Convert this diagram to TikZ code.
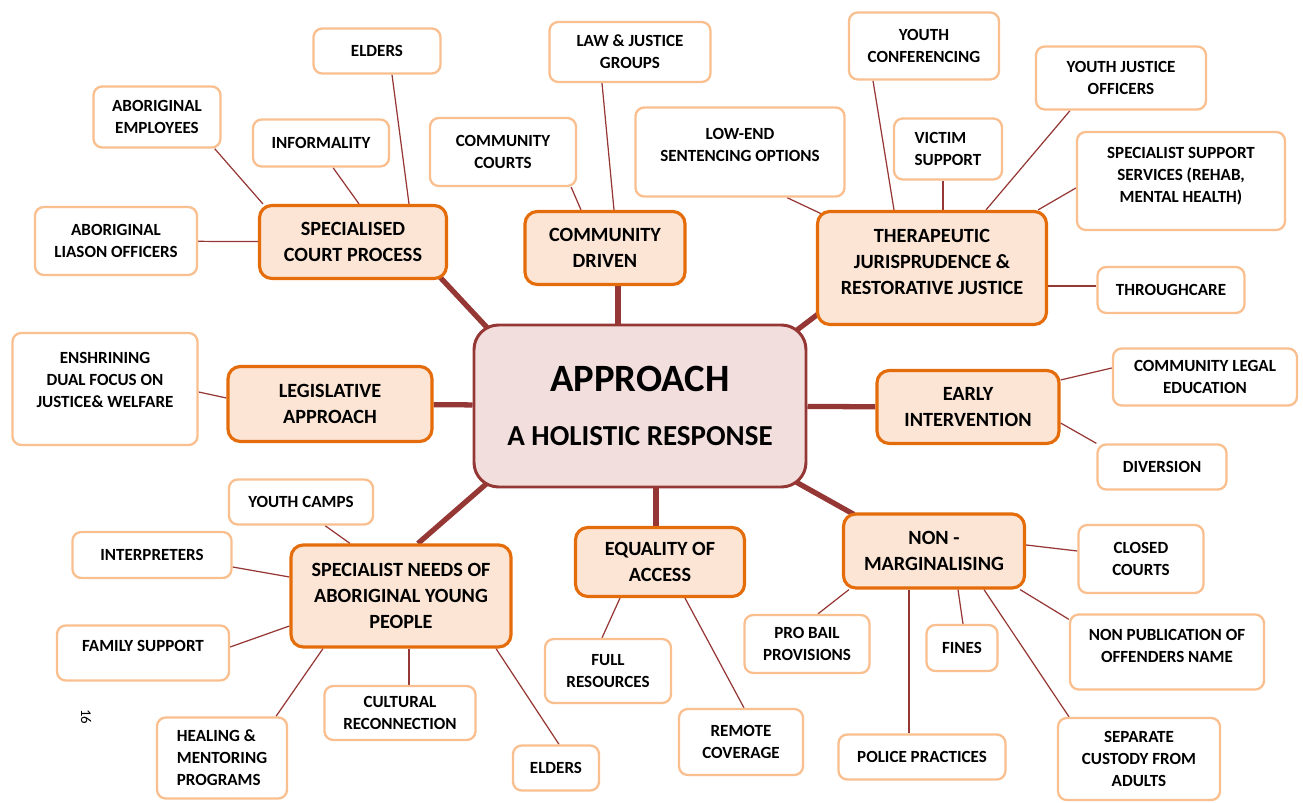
\documentclass[tikz,border=0pt]{standalone}
\usepackage{fontspec}
\setmainfont{Carlito}
\usetikzlibrary{calc,backgrounds}
\definecolor{hubred}{HTML}{953735}
\definecolor{hubfill}{HTML}{F2DEDC}
\definecolor{armline}{HTML}{E46C0A}
\definecolor{armfill}{HTML}{FCE5D4}
\definecolor{leafline}{HTML}{F9BF8F}
\tikzset{hub/.style={draw=hubred, fill=hubfill, line width=1.7pt, rounded corners=14pt, align=center, minimum width=332*0.02cm, minimum height=162*0.02cm, font=\bfseries\fontsize{22}{30.6}\selectfont}}
\tikzset{arm/.style 2 args={draw=armline, fill=armfill, line width=1.8pt, rounded corners=7pt, align=center, inner sep=1pt, minimum width=#1*0.02cm, minimum height=#2*0.02cm, font=\bfseries\fontsize{11.5}{14.7}\selectfont},
         leaf/.style 2 args={draw=leafline, fill=white, line width=1.3pt, rounded corners=5pt, align=center, inner sep=1pt, minimum width=#1*0.02cm, minimum height=#2*0.02cm, font=\bfseries\fontsize{9.7}{12.5}\selectfont},
         lift/.style={text depth=#1*0.02cm},
         trunk/.style={hubred, line width=3pt},
         twig/.style={hubred, line width=0.7pt}}

\begin{document}
\begin{tikzpicture}[x=0.02cm, y=-0.02cm]
  \useasboundingbox (0,0) rectangle (1303,803);
  % hub
  \node[hub] (approach) at (640,406) {APPROACH\\{\fontsize{16.5}{30.6}\selectfont A HOLISTIC RESPONSE}};
  % main branches
  \node[arm={187}{73}]          (court)   at ( 353,242) {SPECIALISED\\COURT PROCESS};
  \node[arm={160}{73}]          (driven)  at ( 605,248) {COMMUNITY\\DRIVEN};
  \node[arm={229}{113},lift=12] (thera)   at ( 932,268) {THERAPEUTIC\\JURISPRUDENCE \&\\RESTORATIVE JUSTICE};
  \node[arm={204}{75}]          (legis)   at ( 330,404) {LEGISLATIVE\\APPROACH};
  \node[arm={182}{73}]          (early)   at ( 968,407) {EARLY\\INTERVENTION};
  \node[arm={220}{102}]         (needs)   at ( 401,596) {SPECIALIST NEEDS OF\\ABORIGINAL YOUNG\\PEOPLE};
  \node[arm={169}{69}]          (equal)   at ( 660,562) {EQUALITY OF\\ACCESS};
  \node[arm={181}{74}]          (nonmarg) at ( 934,551) {NON -\\MARGINALISING};
  % leaves
  \node[leaf={127}{45}]           (elderstop)  at ( 377, 51) {ELDERS};
  \node[leaf={127}{61}]           (aboemp)     at ( 157,117) {ABORIGINAL\\EMPLOYEES};
  \node[leaf={136}{47}]           (informal)   at ( 321,143) {INFORMALITY};
  \node[leaf={162}{68}]           (liason)     at ( 116,241) {ABORIGINAL\\LIASON OFFICERS};
  \node[leaf={161}{60}]           (lawgroups)  at ( 630, 52) {LAW \& JUSTICE\\GROUPS};
  \node[leaf={146}{68}]           (ccourts)    at ( 503,152) {COMMUNITY\\COURTS};
  \node[leaf={209}{89},lift=14]   (lowend)     at ( 740,152) {LOW-END\\SENTENCING OPTIONS};
  \node[leaf={150}{67}]           (conference) at ( 924, 46) {YOUTH\\CONFERENCING};
  \node[leaf={108}{61},align=left](victim)     at ( 948,149) {VICTIM\\SUPPORT};
  \node[leaf={170}{63}]           (yjofficers) at (1121, 78) {YOUTH JUSTICE\\OFFICERS};
  \node[leaf={208}{98},lift=12]   (support)    at (1181,181) {SPECIALIST SUPPORT\\SERVICES (REHAB,\\MENTAL HEALTH)};
  \node[leaf={147}{46}]           (throughcare)at (1171,290) {THROUGHCARE};
  \node[leaf={185}{112},lift=18]  (enshrine)   at ( 105,389) {ENSHRINING\\DUAL FOCUS ON\\JUSTICE\& WELFARE};
  \node[leaf={184}{57}]           (legaled)    at (1205,377) {COMMUNITY LEGAL\\EDUCATION};
  \node[leaf={129}{45}]           (diversion)  at (1162,467) {DIVERSION};
  \node[leaf={144}{45}]           (camps)      at ( 301,502) {YOUTH CAMPS};
  \node[leaf={159}{46}]           (interp)     at ( 152,555) {INTERPRETERS};
  \node[leaf={172}{55},lift=14]   (family)     at ( 143,653) {FAMILY SUPPORT};
  \node[leaf={130}{81},align=left](healing)    at ( 222,758) {HEALING \&\\MENTORING\\PROGRAMS};
  \node[leaf={151}{54}]           (cultural)   at ( 400,713) {CULTURAL\\RECONNECTION};
  \node[leaf={86}{45}]            (eldersbot)  at ( 556,768) {ELDERS};
  \node[leaf={126}{64}]           (fullres)    at ( 608,671) {FULL\\RESOURCES};
  \node[leaf={124}{66}]           (remote)     at ( 741,742) {REMOTE\\COVERAGE};
  \node[leaf={125}{58}]           (probail)    at ( 807,644) {PRO BAIL\\PROVISIONS};
  \node[leaf={71}{46}]            (fines)      at ( 962,648) {FINES};
  \node[leaf={167}{45}]           (police)     at ( 922,757) {POLICE PRACTICES};
  \node[leaf={125}{68}]           (closed)     at (1141,559) {CLOSED\\COURTS};
  \node[leaf={194}{75},lift=12]   (nonpub)     at (1167,652) {NON PUBLICATION OF\\OFFENDERS NAME};
  \node[leaf={162}{82}]           (separate)   at (1139,759) {SEPARATE\\CUSTODY FROM\\ADULTS};
  \node[rotate=-90, font=\fontsize{8.5}{10}\selectfont] (pageno) at (86,717) {16};
  % connectors
  \begin{scope}[on background layer]
   \draw[trunk] ($(court.south east)+(-10,-5)$) -- ($(approach.north west)+(21,11)$);
   \draw[trunk] ($(driven.south)+(13,0)$) -- ($(approach.north)+(-22,0)$);
   \draw[trunk] ($(thera.south west)+(10,-18)$) -- ($(approach.north east)+(-19,13)$);
   \draw[trunk] (legis) -- (approach);
   \draw[trunk] (approach) -- (early);
   \draw[trunk] ($(needs.north)+(17,0)$) -- ($(approach.south west)+(20,-10)$);
   \draw[trunk] ($(equal.north)+(-4,0)$) -- ($(approach.south)+(16,0)$);
   \draw[trunk] ($(approach.south east)+(-16,-9)$) -- ($(nonmarg.north west)+(12,2)$);
   % court
   \draw[twig] ($(elderstop.south)+(15,0)$) -- ($(court.north)+(56,0)$);
   \draw[twig] ($(informal.south)+(12,0)$) -- ($(court.north)+(6,0)$);
   \draw[twig] ($(aboemp.south east)+(-7,0)$) -- ($(court.north west)+(5,0)$);
   \draw[twig] (liason) -- (court);
   % community driven
   \draw[twig] ($(lawgroups.south)+(-28,0)$) -- ($(driven.north)+(9,0)$);
   \draw[twig] ($(ccourts.south east)+(-6,0)$) -- ($(driven.north)+(-24,0)$);
   % therapeutic
   \draw[twig] ($(lowend.south)+(47,0)$) -- ($(thera.north west)+(12,7)$);
   \draw[twig] ($(conference.south)+(-51,0)$) -- ($(thera.north)+(-38,0)$);
   \draw[twig] ($(victim.south)+(-5,0)$) -- ($(thera.north)+(11,0)$);
   \draw[twig] ($(yjofficers.south)+(-51,0)$) -- ($(thera.north)+(54,0)$);
   \draw[twig] ($(support.west)+(0,7)$) -- ($(thera.north east)+(-10,0)$);
   \draw[twig] ($(thera.east)+(0,18)$) -- ($(throughcare.west)+(0,-4)$);
   % legislative, early
   \draw[twig] ($(enshrine.east)+(0,3)$) -- ($(legis.west)+(0,-6)$);
   \draw[twig] ($(early.east)+(0,-27)$) -- ($(legaled.west)+(0,-9)$);
   \draw[twig] ($(early.east)+(0,16)$) -- (diversion.north west);
   % specialist needs
   \draw[twig] ($(camps.south)+(24,0)$) -- ($(needs.north)+(-51,0)$);
   \draw[twig] ($(interp.east)+(0,12)$) -- ($(needs.west)+(0,-19)$);
   \draw[twig] ($(family.east)+(0,-6)$) -- ($(needs.west)+(0,30)$);
   \draw[twig] ($(healing.north)+(54,0)$) -- ($(needs.south)+(-78,0)$);
   \draw[twig] ($(needs.south)+(8,0)$) -- ($(cultural.north)+(9,0)$);
   \draw[twig] ($(needs.south)+(95,0)$) -- ($(eldersbot.north)+(3,0)$);
   % equality
   \draw[twig] ($(equal.south)+(-40,0)$) -- ($(fullres.north)+(-6,0)$);
   \draw[twig] ($(equal.south)+(25,0)$) -- ($(remote.north)+(3,0)$);
   % non-marginalising
   \draw[twig] ($(nonmarg.south)+(-85,0)$) -- ($(probail.north)+(11,0)$);
   \draw[twig] ($(nonmarg.south)+(-25,0)$) -- ($(police.north)+(-13,0)$);
   \draw[twig] ($(nonmarg.south)+(24,0)$) -- ($(fines.north)+(1,0)$);
   \draw[twig] ($(nonmarg.south)+(50,0)$) -- ($(separate.north)+(-70,0)$);
   \draw[twig] ($(nonmarg.south east)+(-6,0)$) -- ($(nonpub.north west)+(0,6)$);
   \draw[twig] ($(nonmarg.east)+(0,-6)$) -- ($(closed.west)+(0,-8)$);
  \end{scope}
\end{tikzpicture}
\end{document}
